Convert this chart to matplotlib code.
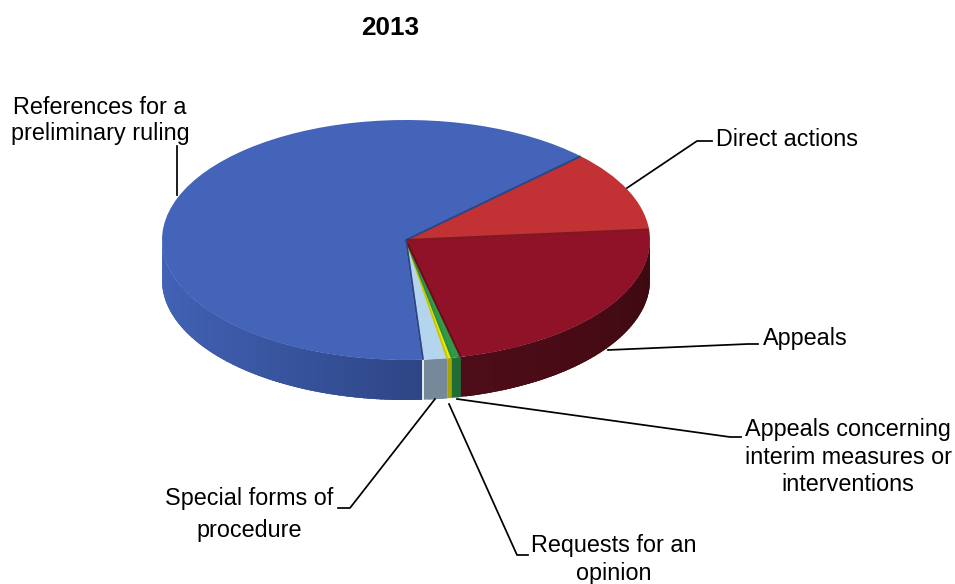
import numpy as np
import matplotlib
matplotlib.use("Agg")
import matplotlib.pyplot as plt
from matplotlib.colors import to_rgb

# --- data (share of cases, %; counter-clockwise from the top-right) ---
categories = ["References for a\npreliminary ruling", "Special forms of\nprocedure",
              "Requests for an\nopinion", "Appeals concerning\ninterim measures or\ninterventions",
              "Appeals", "Direct actions"]
shares = [63.8, 1.6, 0.3, 0.6, 22.8, 10.9]
title = "2013"

# --- styles ---
top_colors = ["#4464b9", "#b5d5ef", "#e9ea05", "#2f9a4a", "#8f1229", "#c23133"]
wall_start = ["#4263b7", "#76899b", "#a9a400", "#1e6e36", "#4c0c18", "#3a0810"]
wall_end = ["#2d4584", "#76899b", "#a9a400", "#1e6e36", "#3a0910", "#3a0810"]
edge_colors = ["#2d4585", "#8fa8c0", "#c8c800", "#2f8a44", "#6d0b18", "#7d1a20"]

W, H = 955, 584
CX, CY, RX, RY, DEPTH = 406, 240, 244, 120, 40
START_ANGLE = 44.3

plt.rcParams["font.family"] = ["Liberation Sans", "DejaVu Sans"]
fig = plt.figure(figsize=(W / 100, H / 100), dpi=100, facecolor="white")
ax = fig.add_axes([0, 0, 1, 1])
wedges, _ = ax.pie(shares, colors=top_colors, startangle=START_ANGLE, radius=1,
                   wedgeprops=dict(linewidth=0))
ax.set_aspect("auto")
ax.set_xlim(-CX / RX, (W - CX) / RX)
ax.set_ylim((CY - H) / RY, CY / RY)
ax.axis("off")

depth = DEPTH / RY
for w, c0, c1 in zip(wedges, wall_start, wall_end):
    t1, t2 = w.theta1 % 360, w.theta2 % 360
    if t2 < t1:
        t2 += 360
    lo, hi = max(t1, 180), min(t2, 360)
    if hi <= lo:
        continue
    edges = np.linspace(lo, hi, max(int((hi - lo)), 2) + 1)
    a0, a1 = np.array(to_rgb(c0)), np.array(to_rgb(c1))
    for i in range(len(edges) - 1):
        end = hi if i == len(edges) - 2 else edges[i + 1] + 1.5
        th = np.radians(np.linspace(edges[i], min(end, hi), 8))
        x, y = np.cos(th), np.sin(th)
        f = ((edges[i] - lo) / (hi - lo)) ** 1.5
        ax.fill(np.r_[x, x[::-1]], np.r_[y, y[::-1] - depth],
                color=a0 + (a1 - a0) * f, lw=0, zorder=0.5)

# white seam between the blue wall and the next slice
th = np.radians(wedges[0].theta2)
ax.plot([np.cos(th)] * 2, [np.sin(th), np.sin(th) - depth], color="white", lw=1.2, zorder=0.8)

# dark seams along slice boundaries on the top face
for w, ec in zip(wedges, edge_colors):
    th = np.radians(w.theta1)
    ax.plot([0, np.cos(th)], [0, np.sin(th)], color=ec, lw=1.4, zorder=3, solid_capstyle="butt")
th = np.radians(wedges[0].theta2)
ax.plot([0, np.cos(th)], [0, np.sin(th)], color="#2d4585", lw=1.4, zorder=3, solid_capstyle="butt")

# --- overlay in pixel space for labels and leader lines ---
ov = fig.add_axes([0, 0, 1, 1], facecolor="none")
ov.set_xlim(0, W)
ov.set_ylim(H, 0)
ov.axis("off")

leaders = [
    [(177, 195), (177, 146)],
    [(435, 399), (350, 508), (338, 508)],
    [(449, 404), (517, 555), (528, 555)],
    [(457, 399), (730, 437), (741, 437)],
    [(608, 350), (748, 344), (758, 344)],
    [(627, 188), (697, 141), (712, 141)],
]
for pts in leaders:
    xs, ys = zip(*pts)
    ov.plot(xs, ys, color="black", lw=1.25, solid_joinstyle="round", zorder=5)

label_pos = [(100, 120.5, 1.18), (249, 514, 1.5), (614, 559.5, 1.24), (848, 457, 1.23), (805, 338, 1.1), (786.5, 140, 1.1)]
for name, (x, y, ls) in zip(categories, label_pos):
    ov.text(x, y, name, ha="center", va="center", multialignment="center",
            fontsize=16.8, color="black", linespacing=ls)
ov.text(390, 28, title, ha="center", va="center", fontsize=18.8, fontweight="bold", color="black")

fig.savefig("out.png", dpi=100)
